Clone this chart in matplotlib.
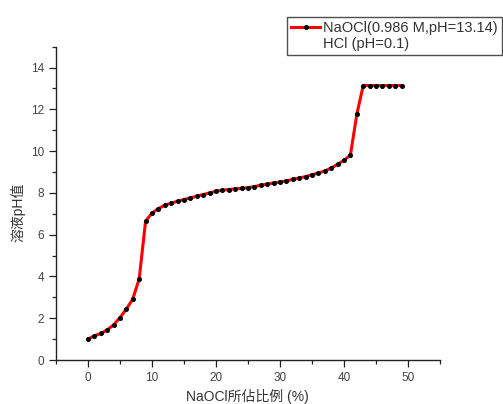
import matplotlib.pyplot as plt
from matplotlib.lines import Line2D
from matplotlib.ticker import MultipleLocator

plt.rcParams['font.family'] = ['Liberation Sans', 'Noto Sans CJK TC', 'DejaVu Sans']

# NaOCl share (%) and resulting pH
ratio = list(range(0, 50))
ph = [1.00, 1.16, 1.27, 1.44, 1.68, 2.03, 2.44, 2.92, 3.89, 6.65,
      7.03, 7.25, 7.41, 7.51, 7.60, 7.68, 7.76, 7.84, 7.92, 8.00,
      8.08, 8.13, 8.16, 8.19, 8.22, 8.25, 8.30, 8.37, 8.41, 8.48,
      8.52, 8.57, 8.65, 8.71, 8.78, 8.87, 8.95, 9.05, 9.19, 9.37,
      9.56, 9.81, 11.76, 13.14, 13.14, 13.14, 13.14, 13.14, 13.14, 13.14]

legend_labels = ["NaOCl(0.986 M,pH=13.14)", "HCl (pH=0.1)"]

fig = plt.figure(figsize=(5.03, 4.04), dpi=100)
ax = fig.add_axes([0.1113, 0.1089, 0.7635, 0.7756])

line, = ax.plot(ratio, ph, color="red", lw=2.2, marker="o", markersize=2.6,
                markerfacecolor="black", markeredgecolor="black")

ax.set_xlim(-5, 55)
ax.set_ylim(0, 15)
ax.xaxis.set_major_locator(MultipleLocator(10))
ax.xaxis.set_minor_locator(MultipleLocator(5))
ax.yaxis.set_major_locator(MultipleLocator(2))
ax.yaxis.set_minor_locator(MultipleLocator(1))
ax.set_yticks(range(0, 15, 2))

ax.spines["top"].set_visible(False)
ax.spines["right"].set_visible(False)
for s in ("left", "bottom"):
    ax.spines[s].set_color("#222222")
    ax.spines[s].set_linewidth(1.0)

ax.tick_params(which="major", direction="out", length=5, width=0.9, labelsize=8.5,
               colors="#222222", labelcolor="#444444")
ax.tick_params(which="minor", direction="out", length=3, width=0.9, colors="#222222")

fig.text(247 / 503, 1 - 396 / 404, "NaOCl所佔比例 (%)", fontsize=10,
         color="#333333", ha="center", va="center")
fig.text(18 / 503, 1 - 212 / 404, "溶液pH值", fontsize=10, color="#333333",
         ha="center", va="center", rotation=90)

empty = Line2D([], [], linestyle="none")
leg = fig.legend([line, empty], legend_labels, loc="upper left",
                 bbox_to_anchor=(286.7 / 503, 1 - 16.7 / 404),
                 fontsize=10.5, frameon=True, fancybox=False, handlelength=2.0,
                 handletextpad=0.2, borderpad=0.3, labelspacing=0.1,
                 borderaxespad=0)
leg.get_frame().set_edgecolor("#222222")
leg.get_frame().set_linewidth(1.0)
for t in leg.get_texts():
    t.set_color("#333333")

fig.savefig("out.png", dpi=100)
plt.close(fig)
